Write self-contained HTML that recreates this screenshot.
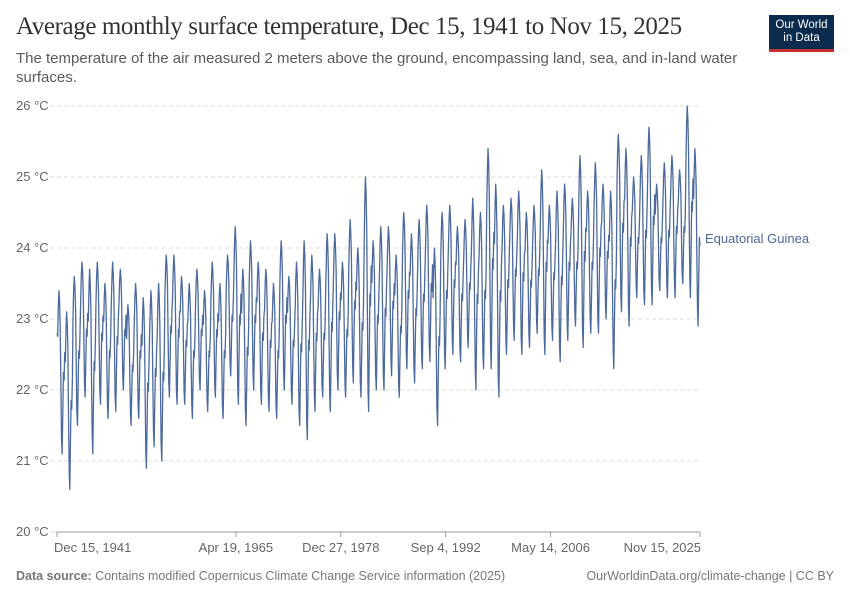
<!DOCTYPE html>
<html><head><meta charset="utf-8">
<style>
body{margin:0;background:#fff;font-family:"Liberation Sans",sans-serif;}
#wrap{position:relative;width:850px;height:600px;overflow:hidden;}
.title{position:absolute;left:16px;top:13px;font-family:"Liberation Serif",serif;font-size:25px;color:#333;letter-spacing:-0.4px}
.sub{position:absolute;left:16px;top:49px;width:730px;font-size:15px;line-height:19px;color:#5b5b5b}
.logo{position:absolute;left:769px;top:15px;width:65px;height:37px;background:#0b2b4f;border-bottom:3px solid #c32f2f;color:#fff;font-size:11.5px;line-height:13px;text-align:center;padding-top:4px;box-sizing:border-box}
.foot{position:absolute;top:569px;font-size:12.5px;color:#777}
</style></head><body>
<div id="wrap">
<div class="title">Average monthly surface temperature, Dec 15, 1941 to Nov 15, 2025</div>
<div class="sub">The temperature of the air measured 2 meters above the ground, encompassing land, sea, and in-land water surfaces.</div>
<div class="logo">Our World<br>in Data</div>
<svg id="chart" width="850" height="600" style="position:absolute;left:0;top:0"></svg>
<div class="foot" style="left:16px"><b>Data source:</b> Contains modified Copernicus Climate Change Service information (2025)</div>
<div class="foot" style="right:16px">OurWorldinData.org/climate-change | CC BY</div>
</div>
<script>
const years=[];for(let y=1942;y<=2025;y++)years.push(y);
const annualHigh=[23.4,23.1,23.6,23.8,23.7,23.8,23.5,23.8,23.7,23.2,
23.5,23.3,23.4,23.5,23.9,23.9,23.6,23.5,23.7,23.4,
23.8,23.5,23.9,24.3,23.7,24.1,23.8,23.7,23.5,24.1,
23.6,23.8,24.1,23.9,23.7,24.2,24.2,23.8,24.4,24.0,
25.0,24.1,24.3,24.3,23.9,24.5,24.2,24.4,24.6,24.0,
24.5,24.6,24.3,24.4,24.7,24.5,25.4,24.9,24.6,24.7,
24.8,24.5,24.6,25.1,24.6,24.8,24.9,24.7,25.3,24.8,
25.2,24.9,24.8,25.6,25.4,25.0,25.3,25.7,24.9,25.2,
25.3,25.1,26.0,25.4];
const annualLow=[21.1,20.6,21.5,21.9,21.1,21.8,21.6,21.7,22.0,21.5,
21.6,20.9,21.2,21.0,21.9,21.8,21.8,21.6,22.0,21.7,
21.9,21.6,22.2,21.8,21.5,22.0,21.8,21.7,21.6,22.0,
21.8,21.5,21.3,21.7,21.9,21.7,22.0,21.9,22.1,21.9,
21.7,22.0,22.0,22.2,21.9,22.3,22.1,22.3,22.4,21.5,
22.3,22.5,22.4,22.6,22.0,22.3,22.3,21.9,22.5,22.7,
22.5,22.6,22.8,22.5,22.7,22.4,22.7,22.9,22.6,22.8,
22.8,23.0,22.3,23.1,22.9,23.3,23.2,23.2,23.4,23.3,
23.3,23.5,23.3,22.9];
const seasonalShape=[0.72,0.9,1.0,0.93,0.78,0.42,0.1,0.0,0.25,0.5,0.45,0.62];
const firstValue=22.8; // Dec 1941
const yTicks=[20,21,22,23,24,25,26];
const xTickLabels=["Dec 15, 1941","Apr 19, 1965","Dec 27, 1978","Sep 4, 1992","May 14, 2006","Nov 15, 2025"];
const xTickDates=[1941.953,1965.30,1978.99,1992.68,2006.37,2025.874];

const svg=document.getElementById('chart');const NS='http://www.w3.org/2000/svg';
const X0=57,X1=700,Y0=532,Y1=106,tMin=1941.953,tMax=2025.874;
const xs=t=>X0+(t-tMin)/(tMax-tMin)*(X1-X0);
const ys=v=>Y0-(v-20)/6*(Y0-Y1);
function mk(tag,attrs){const e=document.createElementNS(NS,tag);for(const k in attrs)e.setAttribute(k,attrs[k]);svg.appendChild(e);return e;}
yTicks.forEach(v=>{
 const l=mk('line',{x1:X0-7,x2:X1,y1:ys(v),y2:ys(v),stroke:'#ddd','stroke-dasharray':v===20?'':'4,3'});
 
 
 const t=mk('text',{x:16,y:ys(v)+4,'font-size':13,fill:'#666','font-family':'Liberation Sans,sans-serif'});t.textContent=v+' °C';
 
 
});
const ax=mk('line',{x1:X0,x2:X1,y1:Y0,y2:Y0,stroke:'#999'});


xTickLabels.forEach((s,i)=>{
 const x=xs(xTickDates[i]);
 const tk=mk('line',{x1:x,x2:x,y1:Y0,y2:Y0+5,stroke:'#999'});
 
 
 const anchor=i===0?'start':(i===xTickLabels.length-1?'end':'middle');
 const t=mk('text',{x:i===0?x-3:(i===xTickLabels.length-1?x+1:x),y:552,'font-size':13,fill:'#666','text-anchor':anchor,'font-family':'Liberation Sans,sans-serif'});t.textContent=s;
 
 
});
const pts=[[tMin,firstValue]];
years.forEach((y,i)=>{
 for(let m=0;m<12;m++){
  const t=y+(m+0.5)/12;if(t>tMax+0.01)break;
  pts.push([t,annualLow[i]+seasonalShape[m]*(annualHigh[i]-annualLow[i])]);
 }
});
const d=pts.map((p,i)=>(i?'L':'M')+xs(p[0]).toFixed(1)+','+ys(p[1]).toFixed(1)).join('');
const path=mk('path',{d:d,fill:'none',stroke:'#4c6a9c','stroke-width':1.3,'stroke-linejoin':'round'});


const lab=mk('text',{x:705,y:243,'font-size':13,fill:'#4c6a9c','font-family':'Liberation Sans,sans-serif'});lab.textContent='Equatorial Guinea';


</script>
</body></html>
